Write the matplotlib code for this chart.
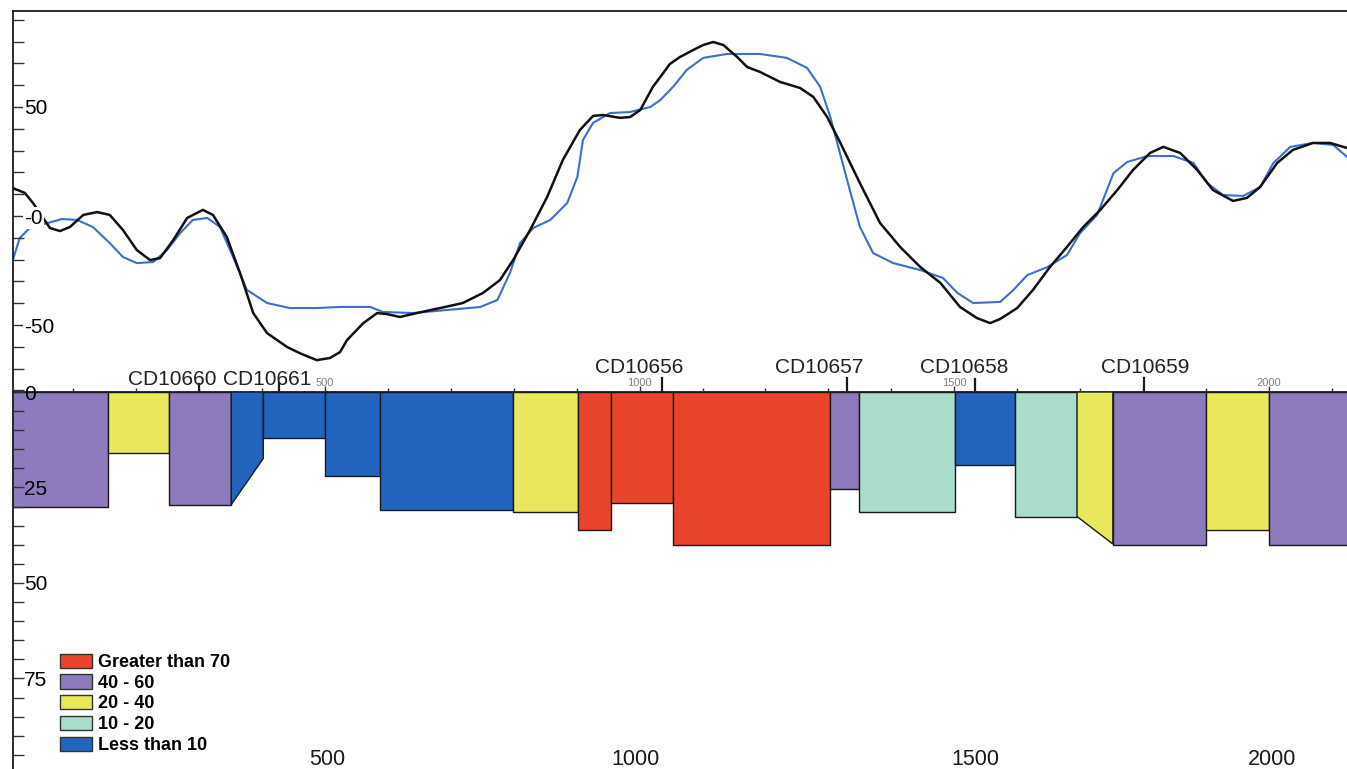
import matplotlib
matplotlib.use("Agg")
import matplotlib.pyplot as plt
from matplotlib.patches import Patch, Polygon
from matplotlib.transforms import blended_transform_factory
from matplotlib.ticker import MultipleLocator, FixedLocator

plt.rcParams['font.family'] = ['Liberation Sans', 'DejaVu Sans']

# ---------------- data ----------------
black_x = [4, 23, 36, 63, 79, 95, 116, 138, 158, 179, 201, 222, 238, 259, 281, 306, 322, 344, 365, 386,
           408, 440, 460, 487, 508, 524, 535, 561, 583, 599, 619, 646, 683, 719, 751, 778, 799, 826, 853, 878,
           905, 926, 942, 969, 985, 1001, 1021, 1033, 1048, 1064, 1085, 1101, 1117, 1133, 1155, 1171, 1191, 1223, 1255, 1276,
           1298, 1319, 1350, 1382, 1414, 1446, 1478, 1509, 1536, 1557, 1573, 1600, 1625, 1652, 1679, 1705, 1732, 1759, 1784, 1811,
           1832, 1859, 1886, 1911, 1943, 1965, 1986, 2013, 2038, 2070, 2097, 2124]
black_y = [12.8, 10.6, 6.0, -5.5, -6.9, -5.0, 0.5, 1.8, 0.5, -6.4, -15.6, -20.2, -19.3, -11.0, -0.9, 2.8, 0.5, -9.6, -26.1, -44.5,
           -53.7, -60.1, -62.9, -66.1, -65.1, -62.4, -56.9, -49.1, -44.5, -45.0, -46.3, -44.5, -42.2, -39.9, -35.3, -29.4, -20.2, -6.4, 8.7, 25.7,
           39.4, 45.9, 46.3, 45.0, 45.4, 48.6, 59.2, 63.8, 69.7, 72.9, 76.1, 78.4, 79.8, 78.4, 72.9, 68.3, 66.1, 61.5, 58.7, 54.6,
           45.4, 33.5, 15.1, -3.2, -14.2, -23.4, -30.7, -41.7, -46.8, -49.1, -47.2, -42.2, -33.9, -23.4, -14.2, -5.0, 2.8, 11.9, 21.1, 28.9,
           31.7, 28.9, 21.1, 11.9, 6.9, 8.3, 13.3, 24.3, 30.3, 33.5, 33.5, 31.2]

blue_x = [4, 15, 31, 82, 106, 131, 158, 179, 201, 227, 249, 270, 290, 313, 333, 354, 376, 408, 444, 487,
          524, 572, 592, 640, 694, 747, 774, 794, 810, 831, 858, 885, 901, 910, 926, 953, 985, 1017, 1033, 1053,
          1075, 1101, 1139, 1191, 1234, 1266, 1287, 1303, 1314, 1334, 1350, 1371, 1403, 1446, 1482, 1505, 1530, 1573, 1594, 1616,
          1648, 1679, 1700, 1727, 1753, 1775, 1807, 1848, 1880, 1902, 1927, 1959, 1986, 2007, 2034, 2070, 2102, 2124]
blue_y = [-20.2, -10.1, -5.5, -1.4, -1.8, -5.0, -12.4, -18.8, -21.6, -21.1, -15.6, -7.8, -1.8, -0.9, -5.0, -18.8, -33.9, -39.9, -42.2, -42.2,
          -41.7, -41.7, -44.0, -44.5, -43.1, -41.7, -38.5, -26.1, -12.4, -5.5, -1.8, 6.0, 17.9, 34.9, 42.7, 47.2, 47.7, 50.0, 53.2, 59.2,
          67.0, 72.5, 74.3, 74.3, 72.5, 67.9, 59.2, 45.4, 33.5, 11.9, -5.0, -17.0, -21.6, -24.8, -28.4, -35.3, -39.9, -39.4, -33.9, -27.1,
          -23.4, -17.9, -7.8, 0.5, 19.7, 24.8, 27.5, 27.5, 24.3, 15.1, 9.6, 9.2, 13.3, 24.3, 31.7, 33.5, 32.6, 27.1]

# interval blocks (distance edges, depth at left / right of each block, grade class)
seg_edges = [0, 155, 252, 351, 402, 500, 588, 799, 902, 955, 1053, 1303, 1349, 1501, 1597, 1695, 1752, 1900, 2000, 2200]
seg_depth_left = [30, 16, 29.5, 29.5, 12, 22, 31, 31.5, 36, 29, 40, 25.5, 31.3, 19, 32.6, 32.6, 40, 36, 40]
seg_depth_right = [30, 16, 29.5, 17.4, 12, 22, 31, 31.5, 36, 29, 40, 25.5, 31.3, 19, 32.6, 39.8, 40, 36, 40]
seg_class = ['40 - 60', '20 - 40', '40 - 60', 'Less than 10', 'Less than 10', 'Less than 10', 'Less than 10',
             '20 - 40', 'Greater than 70', 'Greater than 70', 'Greater than 70', '40 - 60', '10 - 20',
             'Less than 10', '10 - 20', '20 - 40', '40 - 60', '20 - 40', '40 - 60']

class_names = ['Greater than 70', '40 - 60', '20 - 40', '10 - 20', 'Less than 10']
class_colors = ['#e8452c', '#8d7bbe', '#e9e75c', '#a9dccb', '#2263be']

hole_names = ['CD10660', 'CD10661', 'CD10656', 'CD10657', 'CD10658', 'CD10659']
hole_x = [300, 427, 1036, 1330, 1533, 1801]
hole_label_x = [257, 408, 999, 1285, 1516, 1803]

top_yticks = [-50, 0, 50]
top_ylabels = ['-50', '-0', '50']
depth_ticks = [0, 25, 50, 75]
depth_labels = ['0', '25', '50', '75']
mid_ticks = [500, 1000, 1500, 2000]
bottom_tick_pos = [503, 994, 1533, 2005]
bottom_labels = ['500', '1000', '1500', '2000']

# ---------------- layout ----------------
W, H = 1347, 769
fig = plt.figure(figsize=(W / 100, H / 100), dpi=100, facecolor='white')
ax1 = fig.add_axes([13 / W, 1 - 392 / H, 1 - 13 / W, (392 - 11) / H], facecolor='none')
ax2 = fig.add_axes([13 / W, 0, 1 - 13 / W, 1 - 392 / H], facecolor='none')
for ax in (ax1, ax2):
    ax.set_axisbelow(False)

XLIM = (4.3, 2124)
for ax in (ax1, ax2):
    ax.set_xlim(*XLIM)
ax1.set_ylim(-80.7, 94)
ax2.set_ylim(98.7, 0)

# spines
ax1.spines['right'].set_visible(False)
for s in ('top', 'left', 'bottom'):
    ax1.spines[s].set_linewidth(1.3)
    ax1.spines[s].set_color('#1a1a1a')
for s in ('top', 'right', 'bottom'):
    ax2.spines[s].set_visible(False)
ax2.spines['left'].set_linewidth(1.3)
ax2.spines['left'].set_color('#1a1a1a')

# ---------------- top profile ----------------
ax1.plot(blue_x, blue_y, color='#3b6fcf', lw=1.5, zorder=2, solid_joinstyle='round')
ax1.plot(black_x, black_y, color='#111111', lw=1.8, zorder=2, solid_joinstyle='round')

# y ticks (inside)
ax1.yaxis.set_major_locator(FixedLocator(top_yticks))
ax1.set_yticklabels(top_ylabels)
ax1.yaxis.set_minor_locator(MultipleLocator(10))
ax1.tick_params(axis='y', which='both', direction='in', length=8, width=1, color='#333333',
                pad=-8, labelsize=15)
for lab in ax1.get_yticklabels():
    lab.set_ha('left')
    lab.set_bbox(dict(facecolor='white', edgecolor='none', pad=1))

# mid axis ticks (on ax1 bottom, pointing up)
ax1.xaxis.set_major_locator(FixedLocator(mid_ticks))
ax1.set_xticklabels([str(v) for v in mid_ticks])
ax1.xaxis.set_minor_locator(MultipleLocator(100))
ax1.tick_params(axis='x', which='major', direction='in', length=4, width=1, color='#333333',
                pad=-10, labelsize=8, labelcolor='#808080')
ax1.tick_params(axis='x', which='minor', direction='in', length=3, width=1, color='#333333')

# drill-hole collars
btr = blended_transform_factory(ax1.transData, ax1.transAxes)
ax_h = 392 - 11
tick_len_px = [8, 9, 14, 14, 13, 14]
label_off_px = [7, 7, 19, 19, 19, 19]
for name, hx, lx, tl, lo in zip(hole_names, hole_x, hole_label_x, tick_len_px, label_off_px):
    ax1.plot([hx, hx], [0, tl / ax_h], transform=btr, color='#1a1a1a', lw=1.6, clip_on=False, zorder=3)
    ax1.text(lx, lo / ax_h, name, transform=btr, ha='center', va='baseline', fontsize=15,
             color='#222222', zorder=4)

# ---------------- bottom intervals ----------------
col = dict(zip(class_names, class_colors))
for i in range(len(seg_class)):
    x0, x1 = seg_edges[i], seg_edges[i + 1]
    d0, d1 = seg_depth_left[i], seg_depth_right[i]
    poly = Polygon([(x0, 0), (x1, 0), (x1, d1), (x0, d0)], closed=True,
                   facecolor=col[seg_class[i]], edgecolor='#1a1a1a', lw=1.0, zorder=2)
    ax2.add_patch(poly)

ax2.yaxis.set_major_locator(FixedLocator(depth_ticks))
ax2.set_yticklabels(depth_labels)
ax2.yaxis.set_minor_locator(MultipleLocator(5))
ax2.tick_params(axis='y', which='both', direction='in', length=8, width=1, color='#333333',
                pad=-8, labelsize=15)
for lab in ax2.get_yticklabels():
    lab.set_ha('left')

ax2.xaxis.set_major_locator(FixedLocator(bottom_tick_pos))
ax2.set_xticklabels(bottom_labels)
ax2.xaxis.set_minor_locator(FixedLocator([]))
ax2.tick_params(axis='x', which='major', length=0, pad=-14.5, labelsize=15.5, labelcolor='#1a1a1a')

# legend
handles = [Patch(facecolor=c, edgecolor='#333333', lw=1.0) for c in class_colors]
fig.legend(handles, class_names, loc='lower left', bbox_to_anchor=(60 / W, 1 - 754 / H),
           bbox_transform=fig.transFigure, frameon=False, borderpad=0, borderaxespad=0,
           labelspacing=0.19, handlelength=1.78, handleheight=0.83, handletextpad=0.35,
           prop={'weight': 'bold', 'size': 13})

fig.savefig('out.png', dpi=100, facecolor='white')
